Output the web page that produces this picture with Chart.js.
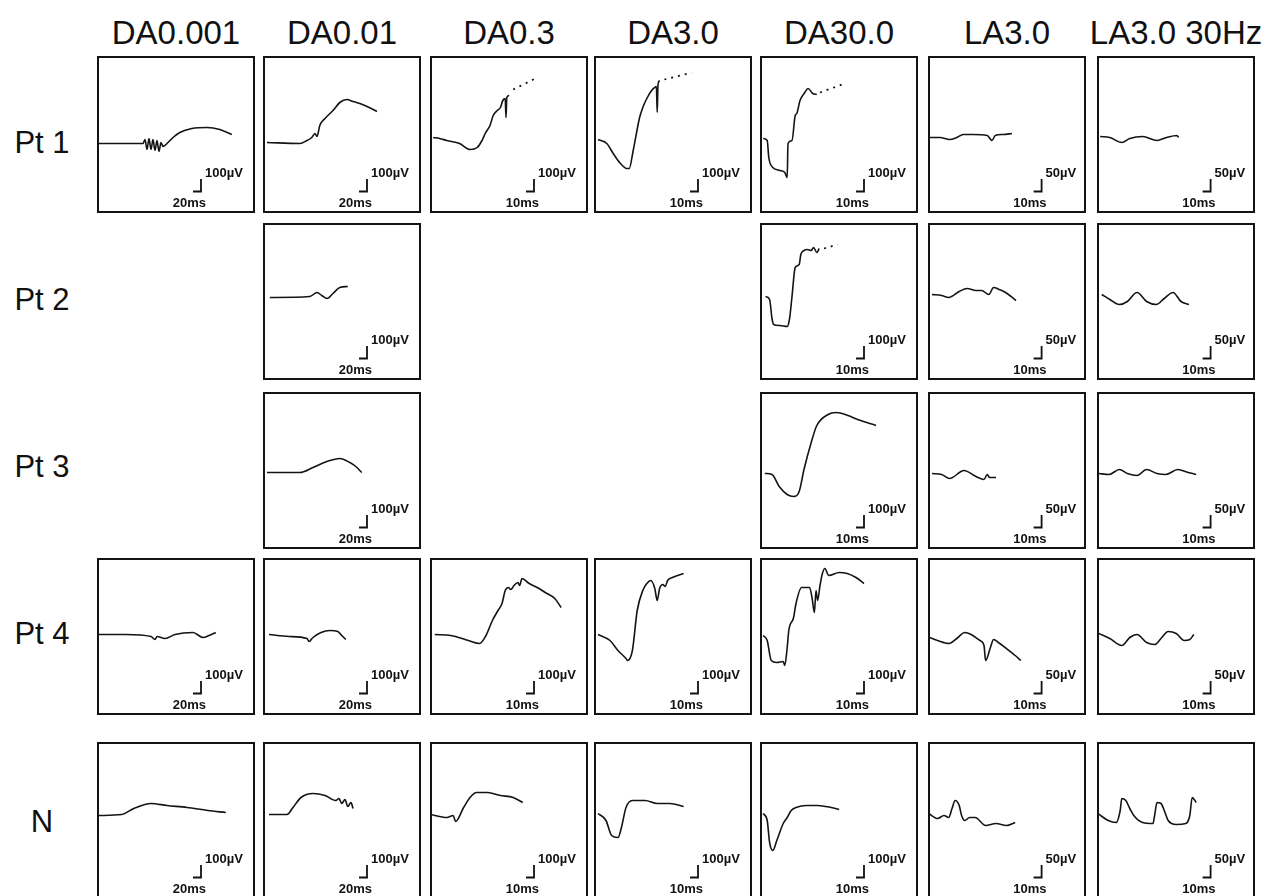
<!DOCTYPE html>
<html>
<head>
<meta charset="utf-8">
<script src="https://cdn.jsdelivr.net/npm/chart.js@4/dist/chart.umd.min.js"></script>
<style>
  body { margin: 0; background: #fff; width: 1268px; height: 896px; overflow: hidden; position: relative;
         font-family: "Liberation Sans", Arial, sans-serif; color: #111; }
  .title { position: absolute; top: 16px; font-size: 33px; line-height: 1; white-space: nowrap; transform: translateX(-50%); }
  .rowlab { position: absolute; left: 42px; font-size: 31px; line-height: 1; white-space: nowrap; transform: translateX(-50%); }
  .panel { position: absolute; width: 158px; height: 157px; box-sizing: border-box; border: 2px solid #141414; }
  .panel canvas { display: block; }
</style>
</head>
<body>
<div id="fig"></div>
<script>
// protocols (columns) and subjects (rows)
const protocols = ['DA0.001', 'DA0.01', 'DA0.3', 'DA3.0', 'DA30.0', 'LA3.0', 'LA3.0 30Hz'];
const subjects = ['Pt 1', 'Pt 2', 'Pt 3', 'Pt 4', 'N'];
const barMs = [20, 20, 10, 10, 10, 10, 10];
const barUv = [100, 100, 100, 100, 100, 50, 50];

// traces as [ms, µV]
const pt1Da0001 = [[0,-72],[115,-72],[120,-40],[125,-120],[130,-32],[135,-120],[140,-40],[145,-128],[150,-48],[155,-136],[160,-64],[165,-96],[175,-72],[190,-24],[207,16],[237,48],[275,56],[307,40],[337,0]];
const pt1Da001 = [[10,-64],[92,-72],[110,-48],[122,-24],[130,8],[135,-16],[142,72],[155,128],[175,192],[192,256],[210,280],[225,264],[242,248],[260,224],[285,184]];
const pt1Da03 = [[4,-24],[12,-32],[21,-48],[37,-72],[50,-120],[59,-104],[65,-48],[69,8],[75,72],[79,152],[84,192],[88,216],[91,272],[94,288],[95,136],[96,296],[99,312]];
const pt1Da03Dots = [[104,360],[134,456]];
const pt1Da3 = [[5,-40],[16,-72],[24,-152],[32,-224],[41,-272],[44,-272],[49,-128],[57,136],[61,216],[66,288],[72,352],[76,376],[78,384],[79,176],[80,400],[82,432]];
const pt1Da3Dots = [[88,440],[122,496]];
const pt1Da30 = [[4,-32],[9,-48],[11,-184],[16,-264],[25,-288],[31,-304],[34,-344],[35,-72],[40,-48],[44,152],[46,168],[50,272],[56,336],[60,368],[66,328],[71,320]];
const pt1Da30Dots = [[75,336],[106,408]];
const pt1La3 = [[2,-12],[15,-12],[27,-20],[36,-12],[44,0],[56,0],[74,-4],[80,-24],[84,-4],[94,0],[105,4]];
const pt1La30hz = [[4,-8],[16,-12],[31,-32],[41,-16],[57,-8],[75,-24],[87,-12],[100,-4],[102,-12]];

const pt2Da001 = [[17,32],[117,40],[135,72],[147,48],[160,24],[175,64],[192,112],[212,120]];
const pt2Da30 = [[7,40],[12,16],[15,-136],[17,-184],[25,-192],[34,-200],[37,-136],[40,40],[44,272],[49,296],[51,376],[55,408],[59,416],[64,408],[67,432],[71,392],[74,424]];
const pt2Da30Dots = [[80,424],[97,456]];
const pt2La3 = [[5,28],[17,24],[26,16],[39,40],[49,52],[60,44],[67,44],[76,28],[82,56],[89,48],[97,36],[110,4]];
const pt2La30hz = [[6,28],[16,8],[28,-12],[38,0],[50,36],[62,0],[74,-12],[84,12],[95,36],[105,0],[115,-12]];

const pt3Da001 = [[10,-16],[92,-16],[125,24],[160,72],[192,96],[217,64],[232,32],[247,-16]];
const pt3Da30 = [[6,-24],[15,-32],[24,-128],[34,-192],[42,-208],[49,-168],[55,8],[64,224],[71,360],[85,448],[95,464],[110,440],[122,408],[145,360]];
const pt3La3 = [[5,-12],[17,-16],[27,-32],[45,0],[60,-24],[70,-36],[74,-16],[77,-28],[85,-28]];
const pt3La30hz = [[2,-12],[15,-16],[28,4],[38,-12],[50,-20],[62,4],[75,-12],[86,-16],[101,4],[114,-8],[124,-16]];

const pt4Da0001 = [[5,16],[72,16],[135,0],[145,-24],[150,0],[170,-16],[195,16],[240,32],[265,-8],[280,8],[297,32]];
const pt4Da001 = [[15,16],[65,0],[110,-16],[115,-40],[125,-8],[145,32],[167,48],[187,40],[197,8],[207,-24]];
const pt4Da03 = [[6,16],[26,8],[48,-32],[62,-56],[70,8],[78,128],[85,208],[90,264],[94,368],[98,392],[101,376],[105,408],[110,432],[112,408],[115,464],[124,424],[134,392],[144,352],[156,304],[164,232]];
const pt4Da3 = [[5,16],[20,-32],[30,-112],[40,-176],[42,-192],[48,-112],[54,208],[61,368],[66,424],[71,448],[76,384],[79,288],[82,384],[86,416],[89,400],[92,448],[98,472],[112,504]];
const pt4Da30 = [[4,8],[9,-32],[14,-192],[21,-208],[29,-200],[31,-232],[34,-88],[36,48],[42,152],[45,264],[52,392],[62,392],[65,312],[68,192],[70,368],[72,288],[75,408],[78,504],[81,544],[86,488],[99,512],[109,504],[120,472],[130,424]];
const pt4La3 = [[2,-4],[12,-16],[26,-28],[36,-8],[46,16],[54,8],[65,-16],[70,-36],[72,-96],[78,-44],[82,-12],[88,-24],[98,-48],[109,-76],[116,-96]];
const pt4La30hz = [[2,12],[16,-8],[31,-36],[41,-4],[50,8],[62,-24],[72,-32],[80,-8],[89,20],[99,12],[109,-16],[116,-12],[121,8]];

const nDa0001 = [[5,40],[62,48],[92,96],[135,136],[175,120],[225,104],[277,80],[322,64]];
const nDa001 = [[15,48],[60,48],[75,104],[95,184],[125,216],[155,200],[182,160],[190,176],[197,136],[205,168],[212,112],[220,144],[225,96]];
const nDa03 = [[1,48],[21,24],[29,40],[32,-8],[42,104],[50,184],[58,224],[72,224],[88,200],[104,184],[116,144]];
const nDa3 = [[5,56],[15,0],[22,-120],[30,-136],[34,-64],[40,104],[48,160],[64,160],[79,136],[95,136],[112,112]];
const nDa30 = [[4,56],[9,0],[12,-176],[16,-240],[21,-160],[29,-24],[34,24],[39,80],[45,104],[58,120],[72,120],[89,104],[99,88]];
const nLa3 = [[1,28],[12,8],[20,20],[26,12],[30,48],[34,80],[39,60],[42,20],[46,0],[52,12],[59,12],[72,-20],[85,-12],[98,-20],[109,-8]];
const nLa30hz = [[1,28],[14,0],[24,-8],[29,40],[31,88],[36,80],[41,48],[46,20],[57,-8],[70,-12],[72,20],[75,72],[80,68],[85,32],[89,0],[99,-16],[111,-12],[116,20],[119,92],[124,72]];

const traceTable = [
  [pt1Da0001, pt1Da001, pt1Da03, pt1Da3, pt1Da30, pt1La3, pt1La30hz],
  [null, pt2Da001, null, null, pt2Da30, pt2La3, pt2La30hz],
  [null, pt3Da001, null, null, pt3Da30, pt3La3, pt3La30hz],
  [pt4Da0001, pt4Da001, pt4Da03, pt4Da3, pt4Da30, pt4La3, pt4La30hz],
  [nDa0001, nDa001, nDa03, nDa3, nDa30, nLa3, nLa30hz]
];
const dotTable = [
  [null, null, pt1Da03Dots, pt1Da3Dots, pt1Da30Dots, null, null],
  [null, null, null, null, pt2Da30Dots, null, null]
];

// layout
const colLeft = [97, 263, 430, 594, 760, 928, 1097];
const rowTop = [56, 223, 392, 558, 742];
const rowLabelY = [127, 284, 451, 618, 806];
const inner = { w: 154, h: 153 };

const fig = document.getElementById('fig');
protocols.forEach((p, c) => {
  const d = document.createElement('div');
  d.className = 'title';
  d.style.left = (colLeft[c] + 79) + 'px';
  d.textContent = p;
  fig.appendChild(d);
});
subjects.forEach((s, r) => {
  const d = document.createElement('div');
  d.className = 'rowlab';
  d.style.top = rowLabelY[r] + 'px';
  d.textContent = s;
  fig.appendChild(d);
});

// scale bar drawn from the chart's own scales
const scaleBar = {
  id: 'scaleBar',
  afterDatasetsDraw(chart, args, o) {
    const { ctx, scales: { x, y } } = chart;
    const x0 = x.getPixelForValue(o.t0), x1 = x.getPixelForValue(o.t0 + o.dt);
    const y0 = y.getPixelForValue(o.v0), y1 = y.getPixelForValue(o.v0 + o.dv);
    ctx.save();
    ctx.strokeStyle = '#111';
    ctx.lineWidth = 1.8;
    ctx.beginPath();
    ctx.moveTo(x0, y0); ctx.lineTo(x1, y0); ctx.lineTo(x1, y1);
    ctx.stroke();
    ctx.fillStyle = '#111';
    ctx.font = 'bold 13px "Liberation Sans", Arial, sans-serif';
    ctx.textBaseline = 'alphabetic';
    ctx.textAlign = 'left';
    ctx.fillText(o.dv + 'µV', x1 + 4, y1 - 2);
    ctx.textAlign = 'right';
    ctx.fillText(o.dt + 'ms', x1 + 5, y0 + 15);
    ctx.restore();
  }
};

subjects.forEach((s, r) => {
  protocols.forEach((p, c) => {
    const trace = traceTable[r][c];
    if (!trace) return;
    const box = document.createElement('div');
    box.className = 'panel';
    box.style.left = colLeft[c] + 'px';
    box.style.top = rowTop[r] + 'px';
    const cv = document.createElement('canvas');
    cv.width = inner.w; cv.height = inner.h;
    cv.style.width = inner.w + 'px'; cv.style.height = inner.h + 'px';
    box.appendChild(cv);
    fig.appendChild(box);

    const msPx = barMs[c] === 20 ? 2.5 : 1.25;
    const uvPx = barUv[c] === 100 ? 8 : 4;
    const xMin = 2 * msPx;
    const yHalf = inner.h / 2 * uvPx;
    const la = c >= 5;

    const datasets = [{
      data: trace.map(([x, y]) => ({ x, y })),
      borderColor: '#141414', borderWidth: 1.6, pointRadius: 0,
      cubicInterpolationMode: 'monotone'
    }];
    const dots = dotTable[r] && dotTable[r][c];
    if (dots) {
      datasets.push({
        data: dots.map(([x, y]) => ({ x, y })),
        borderColor: '#141414', borderWidth: 1.8, borderDash: [2, 5], pointRadius: 0, tension: 0
      });
    }

    new Chart(cv, {
      type: 'line',
      data: { datasets },
      options: {
        responsive: false, animation: false, events: [],
        devicePixelRatio: 1,
        layout: { padding: 0 },
        plugins: {
          legend: { display: false }, tooltip: { enabled: false },
          scaleBar: {
            t0: la ? 132 : (barMs[c] === 20 ? 240 : 120), dt: barMs[c],
            v0: la ? -228 : -456, dv: barUv[c]
          }
        },
        scales: {
          x: { type: 'linear', display: false, min: xMin, max: xMin + inner.w * msPx },
          y: { type: 'linear', display: false, min: -yHalf, max: yHalf }
        }
      },
      plugins: [scaleBar]
    });
  });
});
</script>
</body>
</html>
